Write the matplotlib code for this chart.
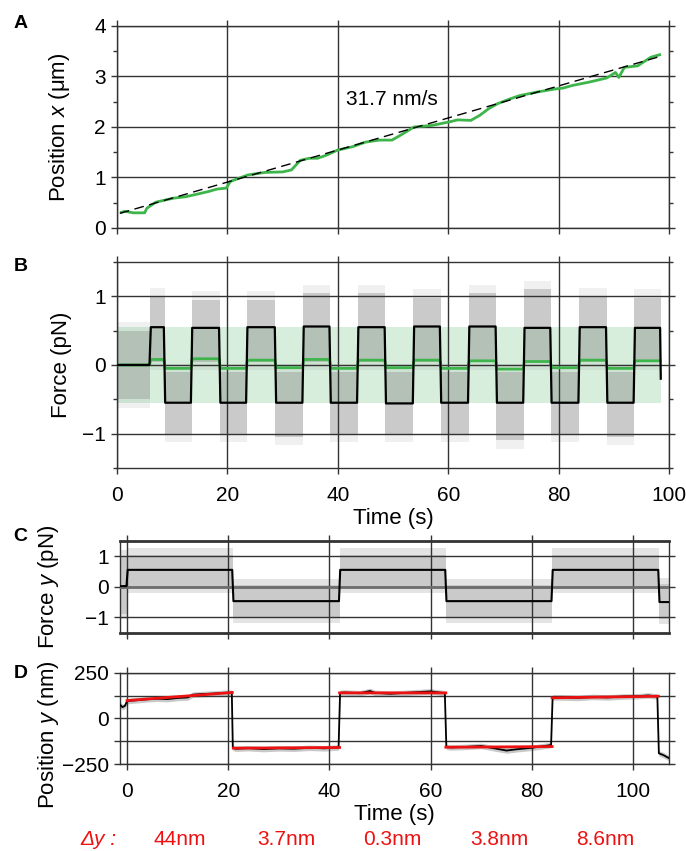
import matplotlib

matplotlib.use("Agg")
import matplotlib.pyplot as plt
import matplotlib.transforms as mtransforms
from matplotlib.ticker import MultipleLocator

plt.rcParams["font.family"] = ["Liberation Sans", "DejaVu Sans"]
plt.rcParams["mathtext.fontset"] = "custom"
plt.rcParams["mathtext.it"] = "Liberation Sans:italic"
plt.rcParams["mathtext.rm"] = "Liberation Sans"
plt.rcParams["font.size"] = 15

# ---- panel A: position x along the filament (s, um)
a_time = [0.8, 1.4, 3.0, 5.0, 5.4, 7.0, 10.2, 12.5, 14.1, 16.5, 18.1, 19.8, 20.5, 23.7,
          26.8, 30.0, 31.6, 33.2, 34.8, 36.3, 37.9, 39.9, 42.7, 45.0, 47.5, 49.8, 51.4,
          53.8, 57.0, 60.2, 61.7, 64.1, 65.7, 67.3, 68.9, 71.3, 72.9, 76.0, 79.2, 80.8,
          82.4, 85.6, 88.7, 90.3, 90.9, 91.9, 94.3, 96.7, 98.3]
a_pos = [0.31, 0.33, 0.30, 0.30, 0.39, 0.51, 0.59, 0.62, 0.66, 0.72, 0.77, 0.79, 0.92, 1.05,
         1.10, 1.11, 1.15, 1.34, 1.38, 1.38, 1.44, 1.54, 1.61, 1.70, 1.74, 1.74, 1.84,
         2.00, 2.03, 2.10, 2.14, 2.13, 2.23, 2.36, 2.46, 2.56, 2.62, 2.69, 2.75, 2.77,
         2.82, 2.89, 2.97, 3.08, 2.98, 3.18, 3.21, 3.38, 3.43]
fit_time = [0.5, 98.5]
fit_pos = [0.29, 3.40]
speed_label = "31.7 nm/s"

# ---- panel B: force segments (s, pN)
b_start = [0.0, 6.0, 8.6, 13.5, 18.6, 23.5, 28.7, 33.7, 38.6, 43.6,
           48.6, 53.7, 58.6, 63.7, 68.7, 73.7, 78.6, 83.7, 88.7, 93.7]
b_end = [6.0, 8.6, 13.5, 18.6, 23.5, 28.7, 33.7, 38.6, 43.6, 48.6,
         53.7, 58.6, 63.7, 68.7, 73.7, 78.6, 83.7, 88.7, 93.7, 98.5]
b_black = [0.0, 0.55, -0.55, 0.54, -0.55, 0.55, -0.55, 0.56, -0.55, 0.55,
           -0.56, 0.56, -0.55, 0.56, -0.55, 0.54, -0.55, 0.55, -0.55, 0.54]
b_green = [0.0, 0.08, -0.05, 0.09, -0.05, 0.07, -0.04, 0.08, -0.05, 0.07,
           -0.04, 0.07, -0.05, 0.06, -0.06, 0.05, -0.04, 0.07, -0.05, 0.06]
b_grey_lo = [-0.5, 0.05, -1.0, 0.05, -1.0, 0.05, -1.05, 0.05, -1.0, 0.05,
             -1.0, 0.05, -1.0, 0.05, -1.1, 0.05, -1.0, 0.05, -1.05, 0.05]
b_grey_hi = [0.5, 1.0, -0.1, 0.95, -0.1, 0.95, -0.1, 1.05, -0.1, 1.05,
             -0.1, 0.98, -0.1, 1.05, -0.1, 1.1, -0.1, 1.0, -0.1, 0.98]
b_green_band = (-0.55, 0.55)

# ---- panel C: force y (s, pN)
c_start = [-1.4, 0.0, 20.9, 42.0, 63.0, 84.0, 105.1]
c_end = [0.0, 20.9, 42.0, 63.0, 84.0, 105.1, 107.1]
c_black = [0.02, 0.55, -0.47, 0.55, -0.47, 0.55, -0.50]
c_grey_lo = [-0.9, -0.05, -1.02, -0.05, -1.02, -0.05, -1.05]
c_grey_hi = [1.0, 1.05, 0.05, 1.05, 0.05, 1.05, 0.1]

# ---- panel D: position y (s, nm)
d_time = [-1.4, -0.9, -0.4, 0.0, 2.0, 4.0, 6.0, 8.0, 10.0, 12.0, 13.0, 15.0, 17.0, 19.0, 20.7,
          20.9, 21.5, 24.0, 27.0, 30.0, 33.0, 36.0, 39.0, 41.8,
          42.1, 43.0, 46.0, 48.0, 49.0, 52.0, 55.0, 58.0, 60.0, 62.8,
          63.1, 64.0, 67.0, 70.0, 72.0, 75.0, 77.0, 80.0, 82.0, 83.8,
          84.1, 86.0, 89.0, 92.0, 95.0, 98.0, 101.0, 103.0, 104.8,
          105.1, 106.0, 107.0]
d_pos = [75, 62, 70, 95, 100, 105, 108, 106, 112, 115, 130, 134, 136, 140, 141,
         -160, -165, -162, -167, -163, -165, -160, -163, -158,
         140, 142, 138, 150, 140, 135, 140, 145, 148, 138,
         -155, -158, -155, -150, -160, -175, -168, -160, -152, -145,
         115, 115, 112, 118, 115, 120, 122, 126, 120,
         -190, -200, -215]
d_noise = 15
fit_t0 = [0.0, 21.0, 42.0, 63.0, 84.0]
fit_t1 = [20.8, 42.0, 63.0, 84.0, 105.0]
fit_y0 = [98, -162, 140, -157, 113]
fit_y1 = [142, -158.3, 139.7, -153.2, 121.6]
dy_labels = ["44nm", "3.7nm", "0.3nm", "3.8nm", "8.6nm"]

GREEN = "#3db54a"
LIGHT_GREEN = "#d6eedb"
GRID = "#333333"


def style_axes(ax, xticks, yticks, minor=None, labelx=True):
    ax.set_xticks(xticks)
    ax.set_yticks(yticks)
    if minor:
        ax.yaxis.set_minor_locator(MultipleLocator(minor))
    ax.tick_params(which="both", direction="out", top=True, right=True,
                   length=4, width=1, color=GRID, labelsize=15)
    ax.tick_params(axis="y", pad=4)
    ax.tick_params(axis="x", pad=9)
    ax.tick_params(which="minor", length=3)
    ax.grid(True, color=GRID, linewidth=1.0)
    ax.set_axisbelow(False)
    for sp in ax.spines.values():
        sp.set_color(GRID)
        sp.set_linewidth(1.0)
    if not labelx:
        ax.tick_params(axis="x", labelbottom=False)


fig = plt.figure(figsize=(6.86, 8.51), dpi=100)
ax_a = fig.add_axes([0.1706, 0.7321, 0.8047, 0.2374])
ax_b = fig.add_axes([0.1706, 0.4501, 0.8047, 0.2421])
ax_c = fig.add_axes([0.1749, 0.2565, 0.8003, 0.1081])
ax_d = fig.add_axes([0.1749, 0.1019, 0.8003, 0.1076])

# A
ax_a.plot(fit_time, fit_pos, color="black", lw=1.0, dashes=(7, 4), zorder=4)
ax_a.plot(a_time, a_pos, color=GREEN, lw=2.0, zorder=3)
ax_a.text(41.5, 2.55, speed_label, fontsize=15, va="center", ha="left")
ax_a.set_xlim(0, 100)
ax_a.set_ylim(0, 4)
style_axes(ax_a, range(0, 101, 20), range(0, 5), minor=0.5, labelx=False)
ax_a.set_ylabel("Position $x$ (\u03bcm)", fontsize=16)
ax_a.yaxis.set_label_coords(-0.082, 0.5)

# B
ax_b.fill_between([b_start[0], b_end[-1]], b_green_band[0], b_green_band[1],
                  color=LIGHT_GREEN, lw=0, zorder=1)
for s, e, lo, hi in zip(b_start, b_end, b_grey_lo, b_grey_hi):
    ax_b.fill_between([s, e], lo - 0.12, hi + 0.12, color="#a0a0a0", alpha=0.15, lw=0, zorder=1.5)
    ax_b.fill_between([s, e], lo, hi, color="#8c8c8c", alpha=0.38, lw=0, zorder=2)
bx, by, gx, gy = [], [], [], []
for s, e, lb, lg in zip(b_start, b_end, b_black, b_green):
    bx += [s + 0.12, e - 0.12]
    by += [lb, lb]
    gx += [s + 0.12, e - 0.12]
    gy += [lg, lg]
ax_b.plot(gx, gy, color=GREEN, lw=2.0, zorder=3)
ax_b.plot(bx + [b_end[-1]], by + [-0.2], color="black", lw=1.6, zorder=4)
ax_b.set_xlim(0, 100)
ax_b.set_ylim(-1.5, 1.5)
style_axes(ax_b, range(0, 101, 20), [-1, 0, 1], minor=0.5)
ax_b.set_yticklabels(["\u22121", "0", "1"])
ax_b.set_xlabel("Time (s)", fontsize=16, labelpad=2)
ax_b.set_ylabel("Force (pN)", fontsize=16)
ax_b.yaxis.set_label_coords(-0.082, 0.5)

# C
cx, cy = [], []
for s, e, lo, hi, lb in zip(c_start, c_end, c_grey_lo, c_grey_hi, c_black):
    ax_c.fill_between([s, e], lo - 0.15, hi + 0.2, color="#e4e4e4", lw=0, zorder=1)
    ax_c.fill_between([s, e], lo, hi, color="#cacaca", lw=0, zorder=1.5)
    cx += [s + 0.12, e - 0.12]
    cy += [lb, lb]
ax_c.plot(cx, cy, color="black", lw=1.5, zorder=4)
ax_c.axhline(0, color="#6e6e6e", lw=2.0, zorder=3)
ax_c.set_xlim(-1.4, 107.1)
ax_c.set_ylim(-1.5, 1.5)
style_axes(ax_c, range(0, 101, 20), [-1, 0, 1], labelx=False)
ax_c.set_yticklabels(["\u22121", "0", "1"])
ax_c.spines["top"].set_linewidth(2.0)
ax_c.spines["bottom"].set_linewidth(2.0)
ax_c.set_ylabel("Force $y$ (pN)", fontsize=16)
ax_c.yaxis.set_label_coords(-0.108, 0.5)

# D
d_lo = [v - d_noise for v in d_pos]
d_hi = [v + d_noise for v in d_pos]
ax_d.fill_between(d_time, d_lo, d_hi, color="#c8c8c8", lw=0, zorder=1)
ax_d.plot(d_time, d_pos, color="black", lw=1.3, zorder=3)
for t0, t1, y0, y1 in zip(fit_t0, fit_t1, fit_y0, fit_y1):
    ax_d.plot([t0, t1], [y0, y1], color="#ee1111", lw=2.0, zorder=4)
ax_d.set_xlim(-1.4, 107.1)
ax_d.set_ylim(-250, 250)
style_axes(ax_d, range(0, 101, 20), [-250, -125, 0, 125, 250])
ax_d.set_yticklabels(["\u2212250", "", "0", "", "250"])
ax_d.set_xlabel("Time (s)", fontsize=16, labelpad=2)
ax_d.set_ylabel("Position $y$ (nm)", fontsize=16)
ax_d.yaxis.set_label_coords(-0.108, 0.32)

# delta-y row under panel D, centred on each fitted segment
trans = mtransforms.blended_transform_factory(ax_d.transData, fig.transFigure)
ax_d.text(-5.7, 0.013, "\u0394y :", transform=trans, color="#ee1111", fontsize=15,
          style="italic", ha="center", va="center")
for t0, t1, lab in zip(fit_t0, fit_t1, dy_labels):
    ax_d.text((t0 + t1) / 2, 0.013, lab, transform=trans, color="#ee1111",
              fontsize=15, ha="center", va="center")

for label, y in zip("ABCD", [0.972, 0.687, 0.369, 0.209]):
    fig.text(0.02, y, label, fontsize=14, fontweight="bold", ha="left", va="center")

fig.savefig("out.png", dpi=100)
